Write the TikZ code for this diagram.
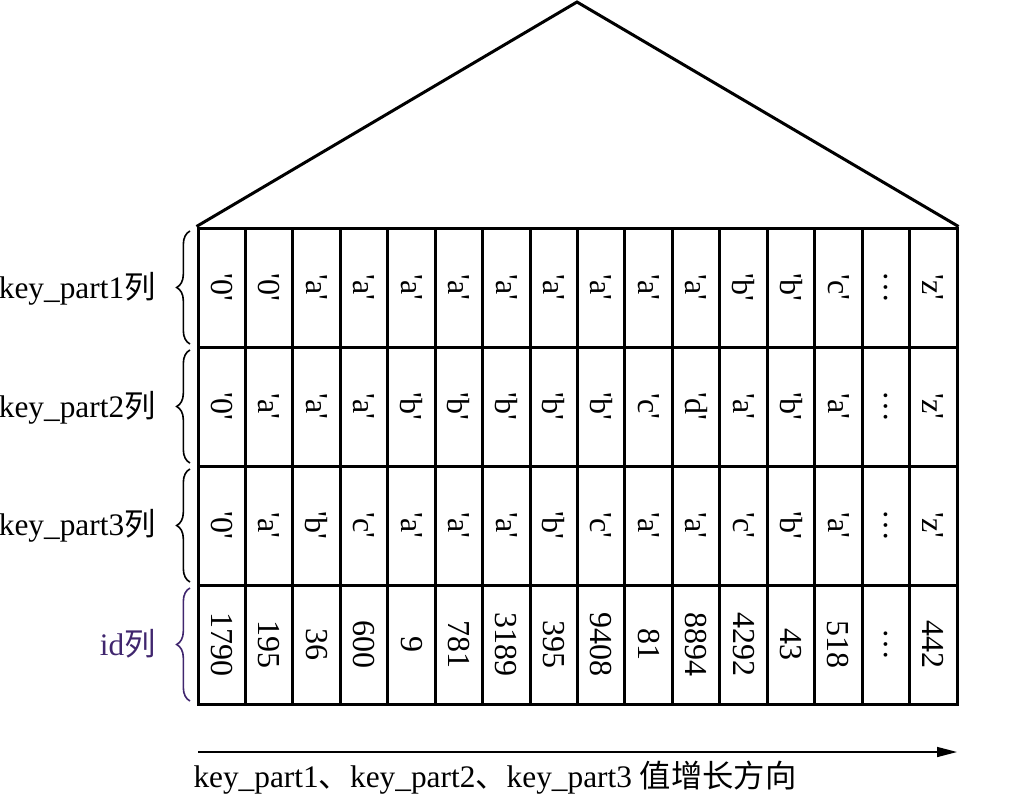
\documentclass[tikz,border=0pt]{standalone}
\usepackage{fontspec}
\setmainfont{Liberation Serif}
\newfontfamily\cjk{Noto Sans CJK SC}
\usetikzlibrary{arrows.meta,decorations.pathreplacing}

\definecolor{idpurple}{RGB}{64,38,110}
\newcommand{\q}[1]{\textquotesingle#1\textquotesingle}

\tikzset{every picture/.style={line width=0.75pt}}
\tikzset{
  cellbox/.style={draw,line width=2.25pt,minimum width=35.58pt,minimum height=89.25pt,inner sep=0pt,font=\fontsize{24}{28}\selectfont},
  rowlabel/.style={anchor=east,inner sep=0pt,font=\fontsize{23.5}{28}\selectfont},
  rowbrace/.style={decorate,decoration={brace,amplitude=10pt},line width=1.2pt}
}

\begin{document}
\begin{tikzpicture}[x=0.75pt,y=0.75pt,yscale=-1,xscale=1]
\useasboundingbox (0,0) rectangle (1019,799);

%Cells of the four rows
\foreach \txt [count=\j] in {\q{0},\q{0},\q{a},\q{a},\q{a},\q{a},\q{a},\q{a},\q{a},\q{a},\q{a},\q{b},\q{b},\q{c},\ldots,\q{z}}
  \node [cellbox] (c-1-\j) at ({198+(\j-0.5)*47.4375},287.5) {\rotatebox{-90}{\txt}};
\foreach \txt [count=\j] in {\q{0},\q{a},\q{a},\q{a},\q{b},\q{b},\q{b},\q{b},\q{b},\q{c},\q{d},\q{a},\q{b},\q{a},\ldots,\q{z}}
  \node [cellbox] (c-2-\j) at ({198+(\j-0.5)*47.4375},406.5) {\rotatebox{-90}{\txt}};
\foreach \txt [count=\j] in {\q{0},\q{a},\q{b},\q{c},\q{a},\q{a},\q{a},\q{b},\q{c},\q{a},\q{a},\q{c},\q{b},\q{a},\ldots,\q{z}}
  \node [cellbox] (c-3-\j) at ({198+(\j-0.5)*47.4375},525.5) {\rotatebox{-90}{\txt}};
\foreach \txt [count=\j] in {1790,195,36,600,9,781,3189,395,9408,81,8894,4292,43,518,\ldots,442}
  \node [cellbox] (c-4-\j) at ({198+(\j-0.5)*47.4375},644.5) {\rotatebox{-90}{\txt}};

%Roof
\coordinate (apex) at (577,2);
\draw [line width=2.25pt,line join=miter] (c-1-1.north west) -- (apex) -- (c-1-16.north east) ;

%Braces and row labels
\draw [rowbrace] (190,344) -- (190,231) ;
\node [rowlabel] (lab1) at (156,289) {key\_part1{\cjk 列}};
\draw [rowbrace] (190,463) -- (190,350) ;
\node [rowlabel] (lab2) at (156,408) {key\_part2{\cjk 列}};
\draw [rowbrace] (190,582) -- (190,469) ;
\node [rowlabel] (lab3) at (156,526) {key\_part3{\cjk 列}};
\draw [rowbrace,idpurple] (190,701) -- (190,588) ;
\node [rowlabel,text=idpurple] (lab4) at (156,644) {id{\cjk 列}};

%Direction arrow
\coordinate (arrS) at (198,752);
\coordinate (arrE) at (957,752);
\draw [line width=1.1pt,-{Triangle[length=15pt,width=7.5pt]}] (arrS) -- (arrE) ;
\node [anchor=west,inner sep=0pt,font=\fontsize{23.5}{28}\selectfont] (dirlab) at (193,778) {key\_part1{\cjk 、}key\_part2{\cjk 、}key\_part3 {\cjk 值增长方向}};

\end{tikzpicture}
\end{document}
